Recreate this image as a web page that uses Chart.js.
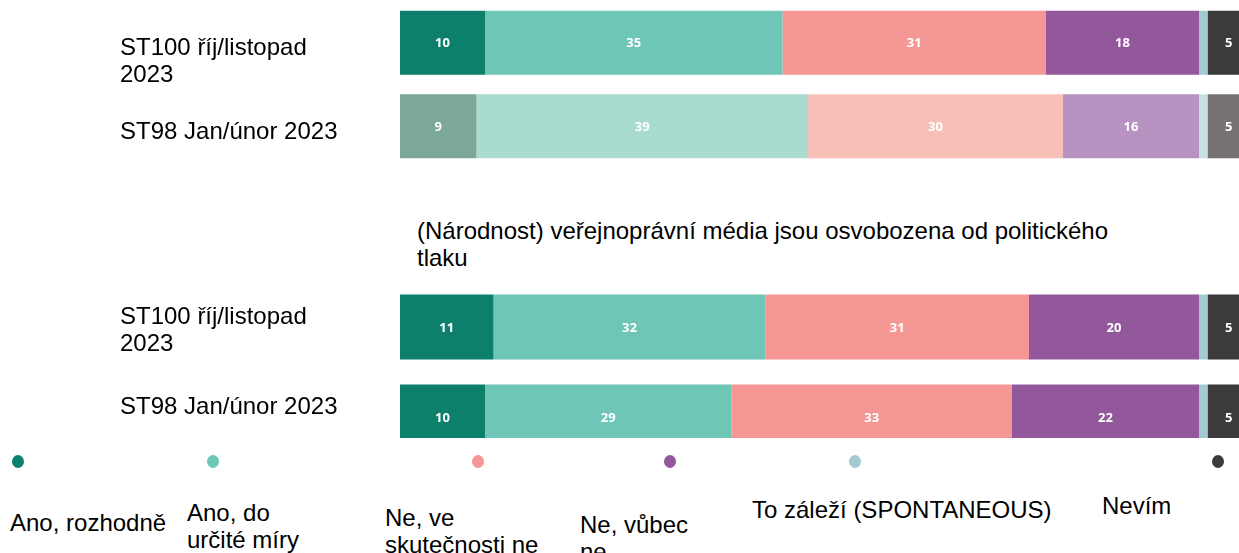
<!DOCTYPE html>
<html>
<head>
<meta charset="utf-8">
<script src="https://cdn.jsdelivr.net/npm/chart.js@4/dist/chart.umd.min.js"></script>
<style>
  html, body { margin: 0; padding: 0; overflow: hidden; background: #fff; }
  body { width: 1239px; height: 553px; position: relative; font-family: "Liberation Sans", Arial, sans-serif; }
  #top { position: absolute; left: 0; top: 0; width: 1250px; height: 168px; }
  #bottomWrap { position: absolute; left: 0; top: 282px; width: 1250px; height: 156px; overflow: hidden; }
  #bottom { position: relative; width: 1250px; height: 180px; }
  .txt { position: absolute; font-size: 24px; line-height: 27px; color: #000; }
  .dot { position: absolute; width: 12px; height: 13px; border-radius: 50%; }
</style>
</head>
<body>
<div id="top"><canvas id="chartTop"></canvas></div>
<div class="txt" style="left:417px; top:217px;">(Národnost) veřejnoprávní média jsou osvobozena od politického<br>tlaku</div>
<div id="bottomWrap"><div id="bottom"><canvas id="chartBottom"></canvas></div></div>
<div id="legend"></div>
<script>
// answer categories (series)
const answers = [
    "Ano, rozhodně",
    "Ano, do určité míry",
    "Ne, ve skutečnosti ne",
    "Ne, vůbec ne",
    "To záleží (SPONTANEOUS)",
    "Nevím"
];

// row labels
const rowsTop = ["ST100 říj/listopad 2023", "ST98 Jan/únor 2023"];
const rowsBottom = ["ST100 říj/listopad 2023", "ST98 Jan/únor 2023"];

// values per answer
const topST100 = [10, 35, 31, 18, 1, 5];
const topST98 = [9, 39, 30, 16, 1, 5];
const bottomST100 = [11, 32, 31, 20, 1, 5];
const bottomST98 = [10, 29, 33, 22, 1, 5];

const colors = ["#0c806a", "#6ec6b6", "#f59795", "#92589b", "#a4cad1", "#3b3b3b"];
const fadedColors = ["#7ba899", "#aadbd0", "#f8beb8", "#b693c0", "#c6e0e4", "#777272"];

const valueLabels = {
    id: "valueLabels",
    afterDatasetsDraw(chart) {
        const ctx = chart.ctx;
        ctx.save();
        ctx.fillStyle = "#fff";
        ctx.font = "bold 13px 'Open Sans', sans-serif";
        ctx.textAlign = "center";
        ctx.textBaseline = "middle";
        chart.data.datasets.forEach((ds, i) => {
            chart.getDatasetMeta(i).data.forEach((bar, j) => {
                const v = ds.data[j];
                if (v < 2) return;
                ctx.fillText(String(v), (bar.x + bar.base) / 2, bar.y + 1);
            });
        });
        ctx.restore();
    }
};

// wrap long row labels before the year; blank lines nudge a label up/down like the slide
function wrapLabel(s, before, after) {
    let lines = [s];
    if (s.length > 20) {
        const k = s.lastIndexOf(" ");
        lines = [s.slice(0, k), s.slice(k + 1)];
    }
    return Array(before).fill("").concat(lines, Array(after).fill(""));
}

function makeChart(id, rows, first, second, faded, barPct, padTop, labelOffset, blanks) {
    const datasets = answers.map((a, i) => ({
        label: a,
        data: [first[i], second[i]],
        backgroundColor: [colors[i], faded ? fadedColors[i] : colors[i]],
        borderWidth: 0,
        categoryPercentage: 1,
        barPercentage: barPct
    }));
    return new Chart(document.getElementById(id), {
        type: "bar",
        data: { labels: rows, datasets: datasets },
        options: {
            indexAxis: "y",
            responsive: true,
            maintainAspectRatio: false,
            animation: false,
            layout: { padding: { left: 120, top: padTop, right: 0, bottom: 0 } },
            plugins: { legend: { display: false }, tooltip: { enabled: false } },
            scales: {
                x: { stacked: true, min: 0, max: 100, display: false },
                y: {
                    stacked: true,
                    grid: { display: false },
                    border: { display: false },
                    afterFit(scale) {
                        scale.width = 280;
                        scale.paddingTop = 0;
                        scale.paddingBottom = 0;
                    },
                    ticks: {
                        autoSkip: false,
                        crossAlign: "far",
                        labelOffset: labelOffset,
                        color: "#000",
                        font: { family: "'Liberation Sans', Arial, sans-serif", size: 24, lineHeight: 1.125 },
                        callback(value, index) {
                            return wrapLabel(rows[index], blanks[index][0], blanks[index][1]);
                        }
                    }
                }
            }
        },
        plugins: [valueLabels]
    });
}

makeChart("chartTop", rowsTop, topST100, topST98, true, 0.766, 1, 6, [[1, 0], [0, 0]]);
makeChart("chartBottom", rowsBottom, bottomST100, bottomST98, false, 0.722, 0, 4, [[0, 0], [0, 1]]);

// legend, laid out like the source slide
const dotX = [18, 213, 478, 670, 855, 1218];
const textPos = [[10, 509, 200], [187, 499, 140], [385, 504, 170], [580, 511, 120], [752, 496, 400], [1102, 492, 120]];
const legend = document.getElementById("legend");
answers.forEach((a, i) => {
    const d = document.createElement("div");
    d.className = "dot";
    d.style.left = (dotX[i] - 6) + "px";
    d.style.top = "455px";
    d.style.background = colors[i];
    legend.appendChild(d);
    const t = document.createElement("div");
    t.className = "txt";
    t.style.left = textPos[i][0] + "px";
    t.style.top = textPos[i][1] + "px";
    t.style.width = textPos[i][2] + "px";
    t.textContent = a;
    legend.appendChild(t);
});
</script>
</body>
</html>
